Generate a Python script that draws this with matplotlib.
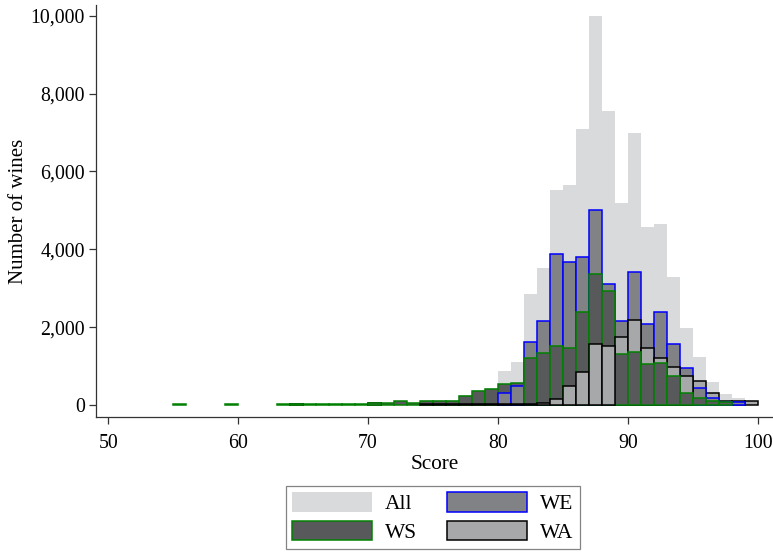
import matplotlib
matplotlib.use("Agg")
import matplotlib.pyplot as plt
from matplotlib.patches import Rectangle
import numpy as np

# scores 55..99, one bin per point
scores = list(range(55, 100))

all_wines = [25, 0, 0, 0, 25, 0, 0, 0, 25, 55,
             25, 25, 25, 25, 25, 90, 40, 95, 44, 130,
             130, 130, 250, 385, 440, 873, 1100, 2840, 3527, 5523,
             5643, 7090, 9990, 7552, 5180, 6996, 4565, 4660, 3297, 1990,
             1225, 590, 283, 175, 115]
we = [0, 0, 0, 0, 0, 0, 0, 0, 0, 0,
      0, 0, 0, 0, 0, 0, 0, 0, 0, 0,
      0, 0, 0, 0, 0, 317, 497, 1610, 2158, 3879,
      3682, 3810, 5009, 3108, 2166, 3425, 2072, 2380, 1563, 955,
      445, 188, 90, 65, 0]
ws = [25, 0, 0, 0, 25, 0, 0, 0, 25, 25,
      25, 25, 25, 25, 25, 40, 40, 95, 44, 110,
      110, 110, 231, 360, 415, 531, 574, 1199, 1327, 1516,
      1456, 2398, 3365, 2937, 1300, 1370, 1045, 1070, 745, 300,
      172, 103, 80, 0, 0]
wa = [0, 0, 0, 0, 0, 0, 0, 0, 0, 30,
      0, 0, 0, 0, 0, 50, 0, 0, 0, 20,
      20, 20, 20, 25, 25, 25, 30, 30, 40, 154,
      488, 856, 1576, 1507, 1738, 2183, 1456, 1216, 984, 753,
      624, 300, 110, 110, 110]

plt.rcParams['font.family'] = ['Liberation Serif', 'DejaVu Serif']

fig = plt.figure(figsize=(7.73, 5.52), dpi=100)
ax = fig.add_axes([96 / 773, 1 - 417 / 552, 677 / 773, 412 / 552])

ax.bar(scores, all_wines, width=1, align='edge', color='#d9dadc',
       linewidth=0, zorder=1)

series = [
    (we, '#818285', 'blue', 'WE'),
    (ws, '#58595b', 'green', 'WS'),
    (wa, '#a7a8aa', 'black', 'WA'),
]
bars = []
for vals, fill, edge, name in series:
    b = ax.bar(scores, vals, width=1, align='edge', color=fill,
               edgecolor=edge, linewidth=1.1)
    bars.append(b)

# shorter bar of each bin sits on top
for i in range(len(scores)):
    heights = [s[0][i] for s in series]
    order = np.argsort(heights)[::-1]
    for rank, j in enumerate(order):
        patch = bars[j].patches[i]
        patch.set_zorder(2 + rank)
        if heights[j] == 0:
            patch.set_visible(False)

ax.set_xlim(50 - 12.3 / 13, 100 + 15.3 / 13)
ax.set_ylim(-308, 10275)
ax.set_xticks([50, 60, 70, 80, 90, 100])
ax.set_yticks([0, 2000, 4000, 6000, 8000, 10000])
ax.set_yticklabels(['0', '2,000', '4,000', '6,000', '8,000', '10,000'])
ax.tick_params(labelsize=14.3, length=5, width=0.9, color='#333333')
ax.tick_params(axis='x', pad=7)
ax.tick_params(axis='y', pad=3)
ax.spines['top'].set_visible(False)
ax.spines['right'].set_visible(False)
for side in ['left', 'bottom']:
    ax.spines[side].set_color('#333333')
    ax.spines[side].set_linewidth(0.9)

ax.set_xlabel('Score', fontsize=15.3, labelpad=2)
ax.set_ylabel('Number of wines', fontsize=15, labelpad=2)

# legend reads row-wise: All, WE / WS, WA
h_all = Rectangle((0, 0), 1, 1, facecolor='#d9dadc', linewidth=0)
h_we = Rectangle((0, 0), 1, 1, facecolor='#818285', edgecolor='blue', linewidth=1.1)
h_ws = Rectangle((0, 0), 1, 1, facecolor='#58595b', edgecolor='green', linewidth=1.1)
h_wa = Rectangle((0, 0), 1, 1, facecolor='#a7a8aa', edgecolor='black', linewidth=1.1)
leg = fig.legend([h_all, h_ws, h_we, h_wa], ['All', 'WS', 'WE', 'WA'],
                 ncol=2, loc='upper left',
                 bbox_to_anchor=(286 / 773, 1 - 486 / 552),
                 borderaxespad=0,
                 fontsize=15.5, frameon=True, fancybox=False,
                 handlelength=3.7, handleheight=1.0, handletextpad=0.6,
                 columnspacing=1.4, labelspacing=0.3, borderpad=0.3)
leg.get_frame().set_edgecolor('#666666')
leg.get_frame().set_linewidth(0.9)

fig.savefig('out.png', dpi=100)
